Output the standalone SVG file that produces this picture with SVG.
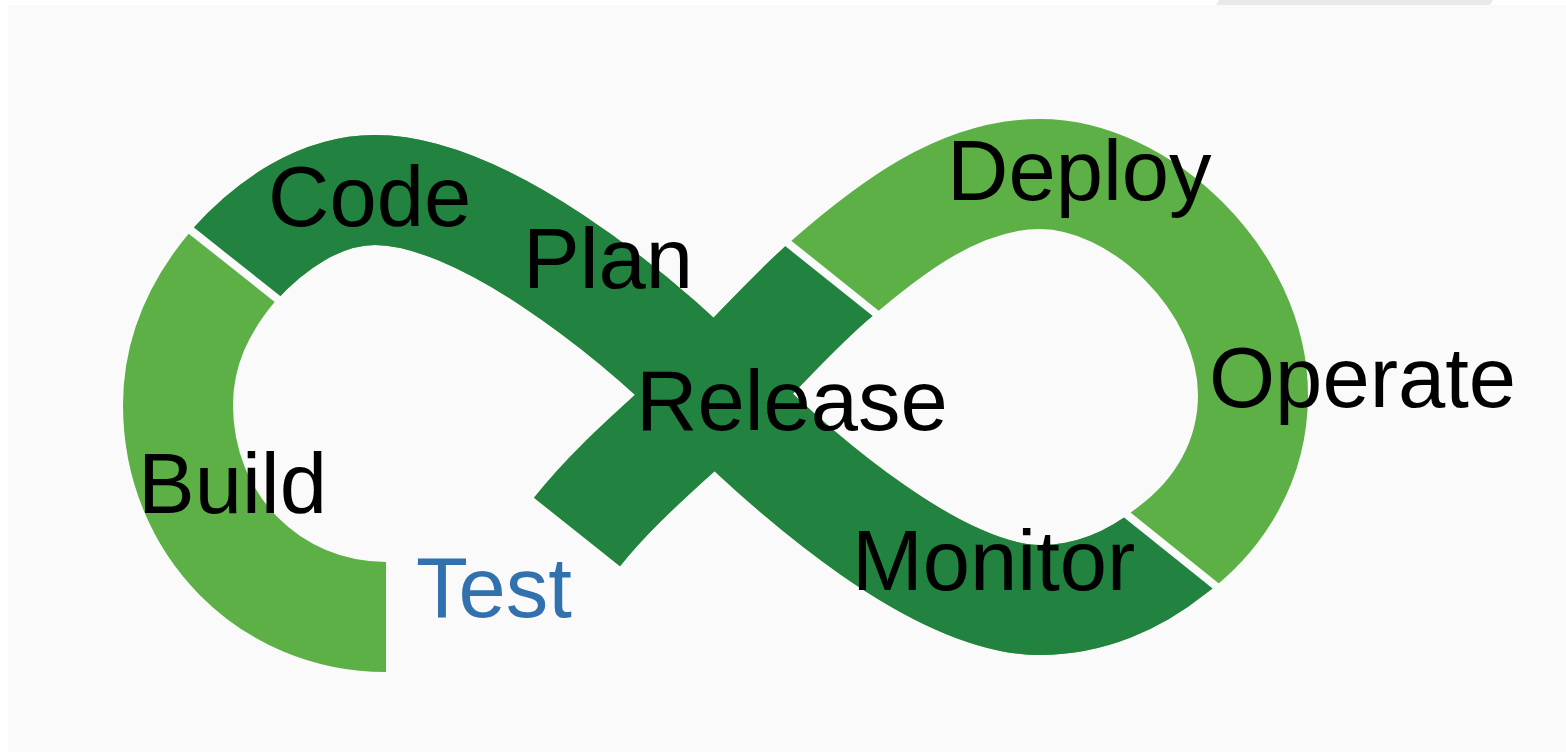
<svg xmlns="http://www.w3.org/2000/svg" width="1566" height="753" viewBox="0 0 1566 753">
  <defs>
    <!-- centre line of the whole figure-eight band -->
    <path id="loop" d="M386,617 C270,617 178,525 178,405 C178,350 200,305 234,265 C270,225 320,190 375,190 C480,190 630,310 715,395 C800,480 940,600 1040,600 C1090,600 1135,580 1171,551 C1220,515 1253,460 1253,395 C1253,280 1140,174 1040,174 C960,174 890,228 830,280 C790,315 760,350 715,395 C670,440 620,478 577,532"/>
    <!-- area holding the dark stages (Code, Plan, Release, Monitor) -->
    <clipPath id="darkArea">
      <polygon points="0,76 323,336 450,420 450,753 1300,753 1261,623 1082,478 1000,420 918,348 745,208 600,0 0,0"/>
    </clipPath>
  </defs>
  <style>
    .band { fill: none; stroke-width: 110; stroke-linecap: butt; stroke-linejoin: round; }
    .light { stroke: #5cb046; }
    .dark { stroke: #228240; }
    .gap { stroke: #fafafa; stroke-width: 8; }
    .lbl { font-family: "Liberation Sans", Arial, sans-serif; font-size: 85px; fill: #000; }
    .test { fill: #3171ae; }
  </style>

  <!-- page -->
  <rect x="0" y="0" width="1566" height="753" fill="#ffffff"/>
  <polygon points="1219,0 1493,0 1490,5 1216,5" fill="#e9e9e9"/>
  <rect x="8" y="5" width="1558" height="747" fill="#fafafa"/>

  <!-- infinity band -->
  <g id="band">
    <use href="#loop" class="band light"/>
    <use href="#loop" class="band dark" clip-path="url(#darkArea)"/>
  </g>

  <!-- separators between stages -->
  <g id="separators">
    <line class="gap" x1="183" y1="224" x2="285" y2="305"/>
    <line class="gap" x1="784" y1="240" x2="879" y2="316"/>
    <line class="gap" x1="1121" y1="510" x2="1222" y2="591"/>
  </g>

  <!-- stage labels -->
  <g id="code"><text class="lbl" x="268" y="226">Code</text></g>
  <g id="plan"><text class="lbl" x="523" y="288">Plan</text></g>
  <g id="release"><text class="lbl" x="636" y="430">Release</text></g>
  <g id="deploy"><text class="lbl" x="947" y="200">Deploy</text></g>
  <g id="operate"><text class="lbl" x="1209" y="407">Operate</text></g>
  <g id="monitor"><text class="lbl" x="852" y="590">Monitor</text></g>
  <g id="build"><text class="lbl" x="138" y="513">Build</text></g>
  <g id="test"><text class="lbl test" x="416" y="617">Test</text></g>
</svg>
